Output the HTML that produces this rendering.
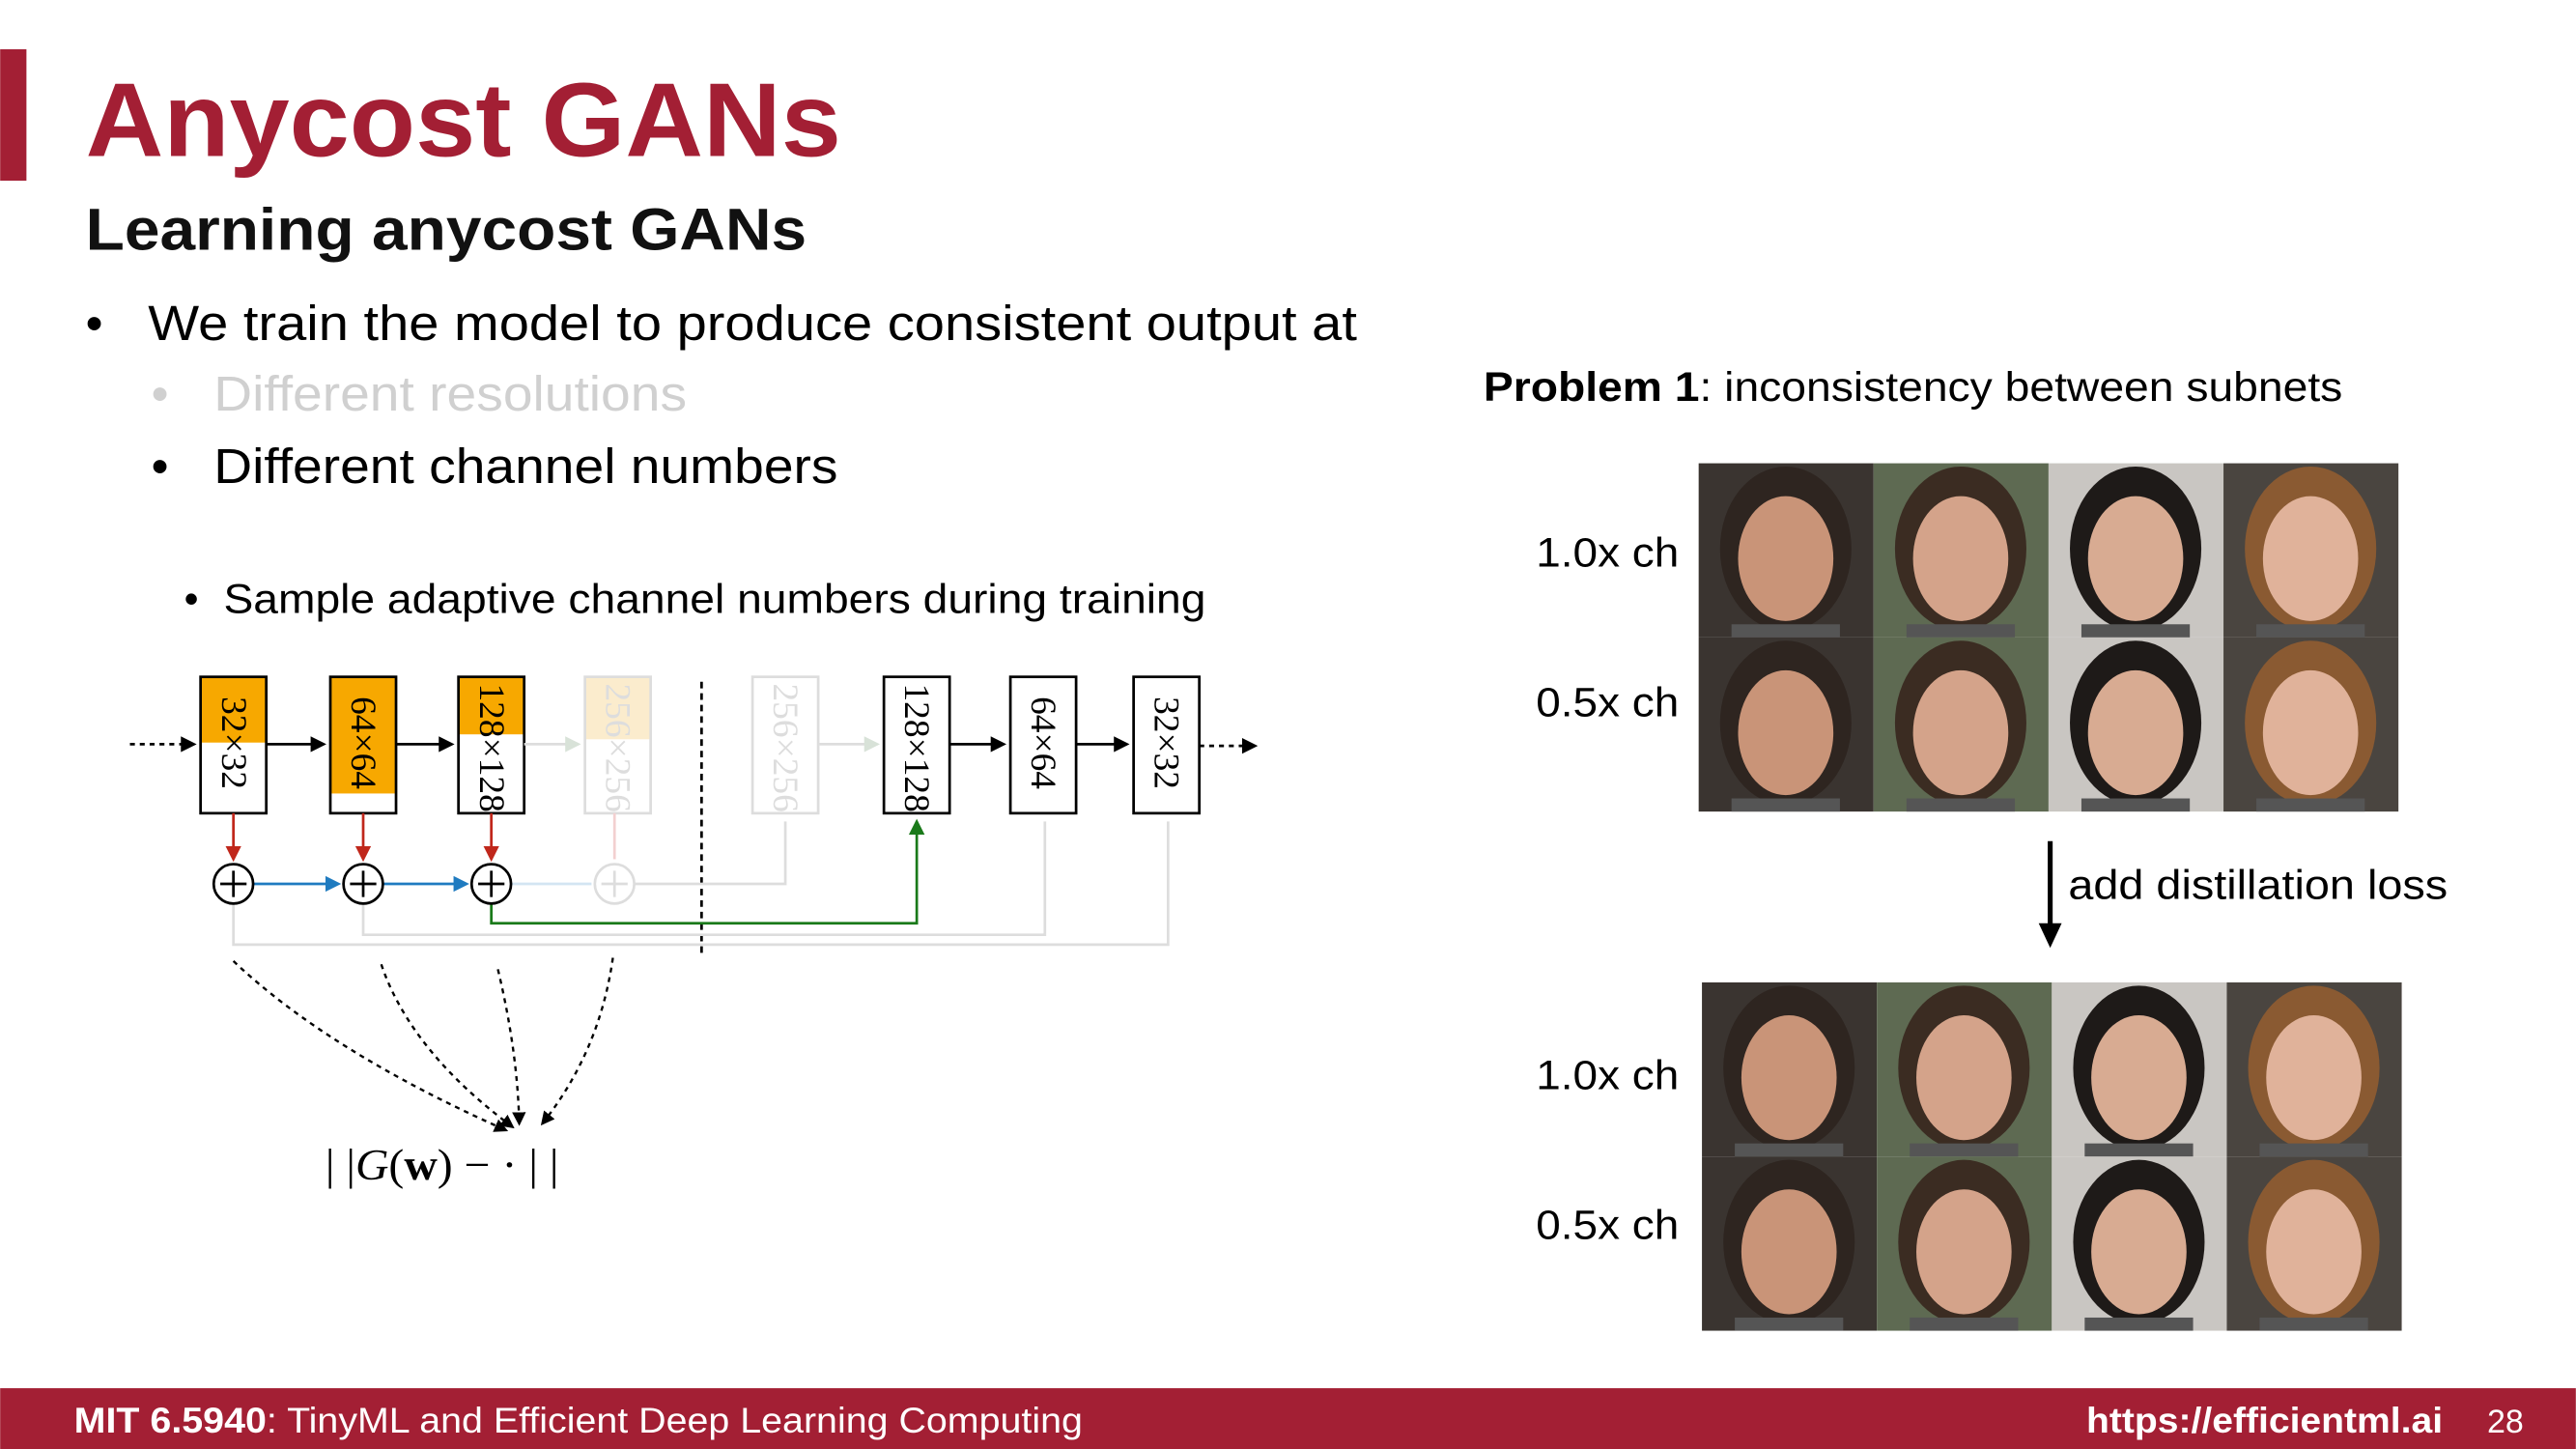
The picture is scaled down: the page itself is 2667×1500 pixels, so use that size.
<!DOCTYPE html>
<html><head><meta charset="utf-8"><style>
html,body{margin:0;padding:0;background:#fff;width:2667px;height:1500px;overflow:hidden}
svg{display:block}
.s{font-family:"Liberation Sans",sans-serif}
.r{font-family:"Liberation Serif",serif}
</style></head><body>
<svg id="c" width="2667" height="1500" viewBox="0 0 1568 882" xmlns="http://www.w3.org/2000/svg">
<defs>
<marker id="ak" markerWidth="6" markerHeight="6" refX="5" refY="3" orient="auto" markerUnits="strokeWidth"><path d="M0,0L6,3L0,6z" fill="#000"/></marker>
<marker id="ar" markerWidth="6" markerHeight="6" refX="5" refY="3" orient="auto" markerUnits="strokeWidth"><path d="M0,0L6,3L0,6z" fill="#c0271b"/></marker>
<marker id="ab" markerWidth="6" markerHeight="6" refX="5" refY="3" orient="auto" markerUnits="strokeWidth"><path d="M0,0L6,3L0,6z" fill="#1f7bc0"/></marker>
<marker id="ag" markerWidth="6" markerHeight="6" refX="5" refY="3" orient="auto" markerUnits="strokeWidth"><path d="M0,0L6,3L0,6z" fill="#1a7a1a"/></marker>
<marker id="al" markerWidth="6" markerHeight="6" refX="5" refY="3" orient="auto" markerUnits="strokeWidth"><path d="M0,0L6,3L0,6z" fill="#d8e2d8"/></marker>
</defs>
<rect x="0" y="30" width="16" height="80" fill="#a31f34"/>
<text x="52" y="95" class="s" font-size="64" font-weight="bold" fill="#a31f34" textLength="460" lengthAdjust="spacingAndGlyphs">Anycost GANs</text>
<text x="52" y="152" class="s" font-size="36" font-weight="bold" fill="#111" textLength="439" lengthAdjust="spacingAndGlyphs">Learning anycost GANs</text>
<g class="s" font-size="30">
<text x="52" y="207">•</text><text x="90" y="207" textLength="736" lengthAdjust="spacingAndGlyphs">We train the model to produce consistent output at</text>
<text x="92" y="250" fill="#d0d0d0">•</text><text x="130" y="250" fill="#d0d0d0" textLength="288" lengthAdjust="spacingAndGlyphs">Different resolutions</text>
<text x="92" y="294">•</text><text x="130" y="294" textLength="380" lengthAdjust="spacingAndGlyphs">Different channel numbers</text>
<text x="112" y="373" font-size="25">•</text><text x="136" y="373" font-size="25" textLength="598" lengthAdjust="spacingAndGlyphs">Sample adaptive channel numbers during training</text>
</g>
<g id="diagram" stroke-width="1.6">
<rect x="122" y="412" width="40" height="40" fill="#f7a800"/><rect x="122" y="412" width="40" height="83" fill="none" stroke="#000"/>
<rect x="201" y="412" width="40" height="71" fill="#f7a800"/><rect x="201" y="412" width="40" height="83" fill="none" stroke="#000"/>
<rect x="279" y="412" width="40" height="35" fill="#f7a800"/><rect x="279" y="412" width="40" height="83" fill="none" stroke="#000"/>
<rect x="356" y="412" width="40" height="38" fill="#fbeccd"/><rect x="356" y="412" width="40" height="83" fill="none" stroke="#ddd"/>
<rect x="458" y="412" width="40" height="83" fill="none" stroke="#ddd"/>
<rect x="538" y="412" width="40" height="83" fill="none" stroke="#000"/>
<rect x="615" y="412" width="40" height="83" fill="none" stroke="#000"/>
<rect x="690" y="412" width="40" height="83" fill="none" stroke="#000"/>
<g class="r" font-size="22" stroke="none">
<text transform="translate(135,424) rotate(90)">32×32</text>
<text transform="translate(214,424) rotate(90)">64×64</text>
<text transform="translate(292,416) rotate(90)">128×128</text>
<text transform="translate(369,416) rotate(90)" fill="#ddd">256×256</text>
<text transform="translate(471,416) rotate(90)" fill="#ddd">256×256</text>
<text transform="translate(551,416) rotate(90)">128×128</text>
<text transform="translate(628,424) rotate(90)">64×64</text>
<text transform="translate(703,424) rotate(90)">32×32</text>
</g>
<line x1="79" y1="453" x2="118" y2="453" stroke="#000" stroke-dasharray="3,3" marker-end="url(#ak)"/>
<line x1="162" y1="453" x2="197" y2="453" stroke="#000" marker-end="url(#ak)"/>
<line x1="241" y1="453" x2="275" y2="453" stroke="#000" marker-end="url(#ak)"/>
<line x1="319" y1="453" x2="352" y2="453" stroke="#ddd" marker-end="url(#al)"/>
<line x1="498" y1="453" x2="534" y2="453" stroke="#ddd" marker-end="url(#al)"/>
<line x1="578" y1="453" x2="611" y2="453" stroke="#000" marker-end="url(#ak)"/>
<line x1="655" y1="453" x2="686" y2="453" stroke="#000" marker-end="url(#ak)"/>
<line x1="730" y1="454" x2="764" y2="454" stroke="#000" stroke-dasharray="3,3" marker-end="url(#ak)"/>
<line x1="427" y1="415" x2="427" y2="583" stroke="#000" stroke-dasharray="4,3"/>
<line x1="142" y1="495" x2="142" y2="523" stroke="#c0271b" marker-end="url(#ar)"/>
<line x1="221" y1="495" x2="221" y2="523" stroke="#c0271b" marker-end="url(#ar)"/>
<line x1="299" y1="495" x2="299" y2="523" stroke="#c0271b" marker-end="url(#ar)"/>
<line x1="374" y1="495" x2="374" y2="523" stroke="#f3d0d0"/>
<polyline points="386,538 478,538 478,500" fill="none" stroke="#ddd"/>
<polyline points="221,550 221,569 636,569 636,500" fill="none" stroke="#ddd"/>
<polyline points="142,550 142,575 711,575 711,500" fill="none" stroke="#ddd"/>
<polyline points="299,550 299,562 558,562 558,500" fill="none" stroke="#1a7a1a" marker-end="url(#ag)"/>
<line x1="154" y1="538" x2="206" y2="538" stroke="#1f7bc0" marker-end="url(#ab)"/>
<line x1="233" y1="538" x2="284" y2="538" stroke="#1f7bc0" marker-end="url(#ab)"/>
<line x1="311" y1="538" x2="360" y2="538" stroke="#d3e5f2"/>
<g fill="#fff">
<circle cx="142" cy="538" r="12" stroke="#000"/><circle cx="221" cy="538" r="12" stroke="#000"/>
<circle cx="299" cy="538" r="12" stroke="#000"/><circle cx="374" cy="538" r="12" stroke="#ddd"/>
</g>
<path d="M134,538h16M142,530v16M213,538h16M221,530v16M291,538h16M299,530v16" stroke="#000"/>
<path d="M366,538h16M374,530v16" stroke="#ddd"/>
<g fill="none" stroke="#000" stroke-dasharray="3,3" stroke-width="1.4">
<path d="M142,585 Q200,640 308,688" marker-end="url(#ak)"/>
<path d="M232,587 Q250,640 312,686" marker-end="url(#ak)"/>
<path d="M303,590 Q315,640 316,684" marker-end="url(#ak)"/>
<path d="M373,583 Q365,640 330,684" marker-end="url(#ak)"/>
</g>
<text x="198" y="718" class="r" font-size="27" stroke="none" textLength="142" lengthAdjust="spacingAndGlyphs">| |<tspan font-style="italic">G</tspan>(<tspan font-weight="bold">w</tspan>) − · | |</text>
</g>
<text x="903" y="244" class="s" font-size="25" textLength="523" lengthAdjust="spacingAndGlyphs"><tspan font-weight="bold">Problem 1</tspan>: inconsistency between subnets</text>
<g class="s" font-size="25">
<text x="935" y="345" textLength="87" lengthAdjust="spacingAndGlyphs">1.0x ch</text><text x="935" y="436" textLength="87" lengthAdjust="spacingAndGlyphs">0.5x ch</text>
<text x="935" y="663" textLength="87" lengthAdjust="spacingAndGlyphs">1.0x ch</text><text x="935" y="754" textLength="87" lengthAdjust="spacingAndGlyphs">0.5x ch</text>
</g>
<line x1="1248" y1="512" x2="1248" y2="566" stroke="#000" stroke-width="3"/>
<path d="M1241,562L1255,562L1248,577z" fill="#000"/>
<text x="1259" y="547" class="s" font-size="25" textLength="231" lengthAdjust="spacingAndGlyphs">add distillation loss</text>
<g id="grid1"></g>
<g id="grid2"></g>
<rect x="0" y="845" width="1568" height="37" fill="#a31f34"/>
<text x="45" y="872" class="s" font-size="22" fill="#fff" textLength="614" lengthAdjust="spacingAndGlyphs"><tspan font-weight="bold">MIT 6.5940</tspan>: TinyML and Efficient Deep Learning Computing</text>
<text x="1270" y="872" class="s" font-size="22" fill="#fff" font-weight="bold" textLength="217" lengthAdjust="spacingAndGlyphs">https://efficientml.ai</text>
<text x="1514" y="872" class="s" font-size="20" fill="#fff">28</text>
</svg>
<script>
const bgs=["#3a3430","#5e6a52","#c9c6c2","#4a4540"];
const hairs=["#2e2520","#3b2c22","#1e1a18","#8a5a32"];
const skins=["#c99478","#d4a38a","#d8ab92","#e0b29a"];
const NS="http://www.w3.org/2000/svg";
function grid(id,x0,y0){
  const g=document.getElementById(id);
  for(let r=0;r<2;r++)for(let c=0;c<4;c++){
    const x=x0+c*106.5,y=y0+r*106;
    const cell=document.createElementNS(NS,"g");
    
    
    cell.innerHTML=`<rect x="${x}" y="${y}" width="106.5" height="106" fill="${bgs[c]}"/>
<ellipse cx="${x+53}" cy="${y+52}" rx="40" ry="50" fill="${hairs[c]}"/>
<ellipse cx="${x+53}" cy="${y+58}" rx="29" ry="38" fill="${skins[c]}"/>
<rect x="${x+20}" y="${y+98}" width="66" height="8" fill="#555"/>`;
    g.appendChild(cell);
  }
}
grid("grid1",1034,282);
grid("grid2",1036,598);
</script>
</body></html>
